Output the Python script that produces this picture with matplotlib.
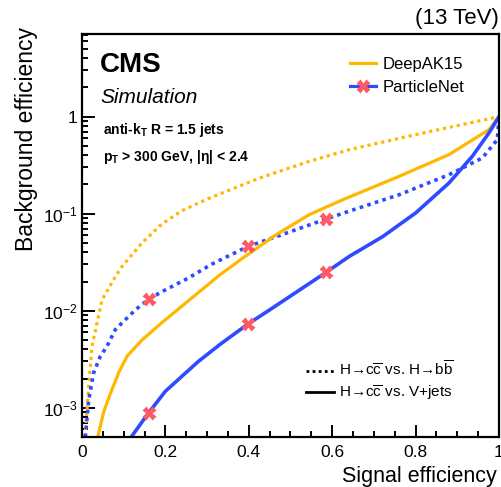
import numpy as np
import matplotlib
matplotlib.use("Agg")
import matplotlib.pyplot as plt
from matplotlib.lines import Line2D
from matplotlib.ticker import FixedLocator, NullFormatter

plt.rcParams['font.family'] = ['Liberation Sans', 'DejaVu Sans']
plt.rcParams['mathtext.fontset'] = 'custom'
plt.rcParams['mathtext.rm'] = 'Liberation Sans'
plt.rcParams['mathtext.it'] = 'Liberation Sans:italic'
plt.rcParams['mathtext.bf'] = 'Liberation Sans:bold'

# ---------------- data ----------------
# DeepAK15, H->cc vs H->bb (dotted)
dak_bb_x = [0.007, 0.016, 0.024, 0.048, 0.08, 0.096, 0.144, 0.191, 0.239, 0.306, 0.426, 0.545, 0.641, 0.80, 1.0]
dak_bb_y = [5.0e-4, 1.66e-3, 4.3e-3, 0.0129, 0.0225, 0.0286, 0.050, 0.078, 0.107, 0.145, 0.233, 0.346, 0.457, 0.652, 1.0]
# DeepAK15, H->cc vs V+jets (solid)
dak_vj_x = [0.038, 0.052, 0.068, 0.088, 0.108, 0.144, 0.191, 0.239, 0.287, 0.331, 0.386, 0.466, 0.545, 0.625, 0.761, 0.880, 0.976, 1.0]
dak_vj_y = [5.0e-4, 9.1e-4, 1.4e-3, 2.3e-3, 3.4e-3, 5.0e-3, 7.5e-3, 0.0111, 0.0164, 0.0235, 0.035, 0.0608, 0.0977, 0.139, 0.243, 0.406, 0.734, 1.0]
# ParticleNet, H->cc vs H->bb (dotted)
pn_bb_x = [0.008, 0.016, 0.028, 0.044, 0.060, 0.08, 0.104, 0.128, 0.16, 0.2, 0.255, 0.31, 0.398, 0.466, 0.585, 0.657, 0.761, 0.88, 0.96, 0.996, 1.0]
pn_bb_y = [5.0e-4, 1.2e-3, 2.3e-3, 3.4e-3, 4.3e-3, 6.4e-3, 8.1e-3, 0.0102, 0.0132, 0.0164, 0.0217, 0.030, 0.046, 0.058, 0.088, 0.112, 0.157, 0.252, 0.375, 0.58, 1.0]
# ParticleNet, H->cc vs V+jets (solid)
pn_vj_x = [0.118, 0.16, 0.2, 0.239, 0.279, 0.331, 0.398, 0.45, 0.585, 0.641, 0.721, 0.80, 0.88, 0.936, 0.976, 1.0]
pn_vj_y = [5.0e-4, 8.9e-4, 1.48e-3, 2.1e-3, 3.0e-3, 4.5e-3, 7.3e-3, 0.0102, 0.0248, 0.0363, 0.058, 0.1016, 0.207, 0.39, 0.68, 1.0]
# working-point markers
wp_x = [0.16, 0.398, 0.585]
wp_bb_y = [0.0132, 0.046, 0.088]
wp_vj_y = [8.9e-4, 7.3e-3, 0.0248]

x_ticks = [0, 0.2, 0.4, 0.6, 0.8, 1.0]
x_ticklabels = ['0', '0.2', '0.4', '0.6', '0.8', '1']
y_ticks = [1e-3, 1e-2, 1e-1, 1]
y_ticklabels = [r'$10^{-3}$', r'$10^{-2}$', r'$10^{-1}$', '1']

# ---------------- style ----------------
W, H = 502, 487
YEL = '#FFB800'
BLU = '#2E4BFF'
MRK = '#FF5A64'
DOT = (0, (1.0, 1.2))

fig = plt.figure(figsize=(W / 100, H / 100), dpi=100)
ax = fig.add_axes([82 / W, 1 - 437 / H, (499 - 82) / W, (437 - 34) / H])

def fx(px):
    return px / W

def fy(py):
    return 1 - py / H

lw = 2.3
ax.plot(dak_bb_x, dak_bb_y, color=YEL, lw=lw, ls=DOT)
ax.plot(pn_bb_x, pn_bb_y, color=BLU, lw=lw + 0.3, ls=DOT)
ax.plot(dak_vj_x, dak_vj_y, color=YEL, lw=lw, ls='-')
ax.plot(pn_vj_x, pn_vj_y, color=BLU, lw=lw + 0.3, ls='-')
ax.plot(wp_x, wp_bb_y, ls='none', marker='X', ms=10, color=MRK, mec='none', zorder=5)
ax.plot(wp_x, wp_vj_y, ls='none', marker='X', ms=10, color=MRK, mec='none', zorder=5)

ax.set_yscale('log')
ax.set_xlim(0, 1)
ax.set_ylim(5e-4, 7.1)

ax.xaxis.set_major_locator(FixedLocator(x_ticks))
ax.set_xticklabels(x_ticklabels)
ax.xaxis.set_minor_locator(FixedLocator(np.arange(0, 1.0001, 0.05)))
ax.yaxis.set_major_locator(FixedLocator(y_ticks))
ax.set_yticklabels(y_ticklabels)
minors = [m * 10.0 ** e for e in range(-4, 1) for m in range(2, 10)]
ax.yaxis.set_minor_locator(FixedLocator(minors))
ax.yaxis.set_minor_formatter(NullFormatter())

ax.tick_params(which='both', direction='in', top=False, right=False, width=1.4, labelsize=12.5)
ax.tick_params(which='major', length=9)
ax.tick_params(which='minor', length=4.5)
ax.tick_params(axis='x', pad=6)
ax.tick_params(axis='y', pad=3)
for s in ax.spines.values():
    s.set_linewidth(1.6)

# axis labels
fig.text(fx(497), fy(482), 'Signal efficiency', ha='right', va='baseline', fontsize=15.5)
fig.text(fx(33), fy(27), 'Background efficiency', ha='right', va='baseline', rotation=90,
         fontsize=16.5, rotation_mode='anchor')
fig.text(fx(499), fy(24), '(13 TeV)', ha='right', va='baseline', fontsize=16)

# CMS labels
fig.text(fx(100), fy(72), 'CMS', fontsize=20, fontweight='bold', va='baseline')
fig.text(fx(100), fy(103), 'Simulation', fontsize=15, style='italic', va='baseline')
fig.text(fx(103), fy(134), r'anti-k$_{\mathbf{T}}$ R = 1.5 jets', fontsize=10, fontweight='bold', va='baseline')
fig.text(fx(103), fy(161), r'p$_{\mathbf{T}}$ > 300 GeV, |η| < 2.4', fontsize=10, fontweight='bold', va='baseline')

# legends
h1 = [Line2D([], [], color=YEL, lw=lw),
      Line2D([], [], color=BLU, lw=lw, marker='X', ms=10, mfc=MRK, mec='none')]
leg1 = fig.legend(h1, ['DeepAK15', 'ParticleNet'], loc='upper left',
                  bbox_to_anchor=(fx(350), fy(57)), frameon=False, fontsize=12,
                  handlelength=1.55, handletextpad=0.4, labelspacing=0.45,
                  borderpad=0, borderaxespad=0)
h2 = [Line2D([], [], color='black', lw=2.0, ls=DOT),
      Line2D([], [], color='black', lw=2.0, ls='-')]
leg2 = fig.legend(h2, [r'H→c$\overline{\mathrm{c}}$ vs. H→b$\overline{\mathrm{b}}$',
                       r'H→c$\overline{\mathrm{c}}$ vs. V+jets'],
                  loc='upper left', bbox_to_anchor=(fx(306), fy(360)), frameon=False, fontsize=11,
                  handlelength=1.8, handletextpad=0.35, labelspacing=0.3,
                  borderpad=0, borderaxespad=0)

fig.savefig('out.png', dpi=100)
